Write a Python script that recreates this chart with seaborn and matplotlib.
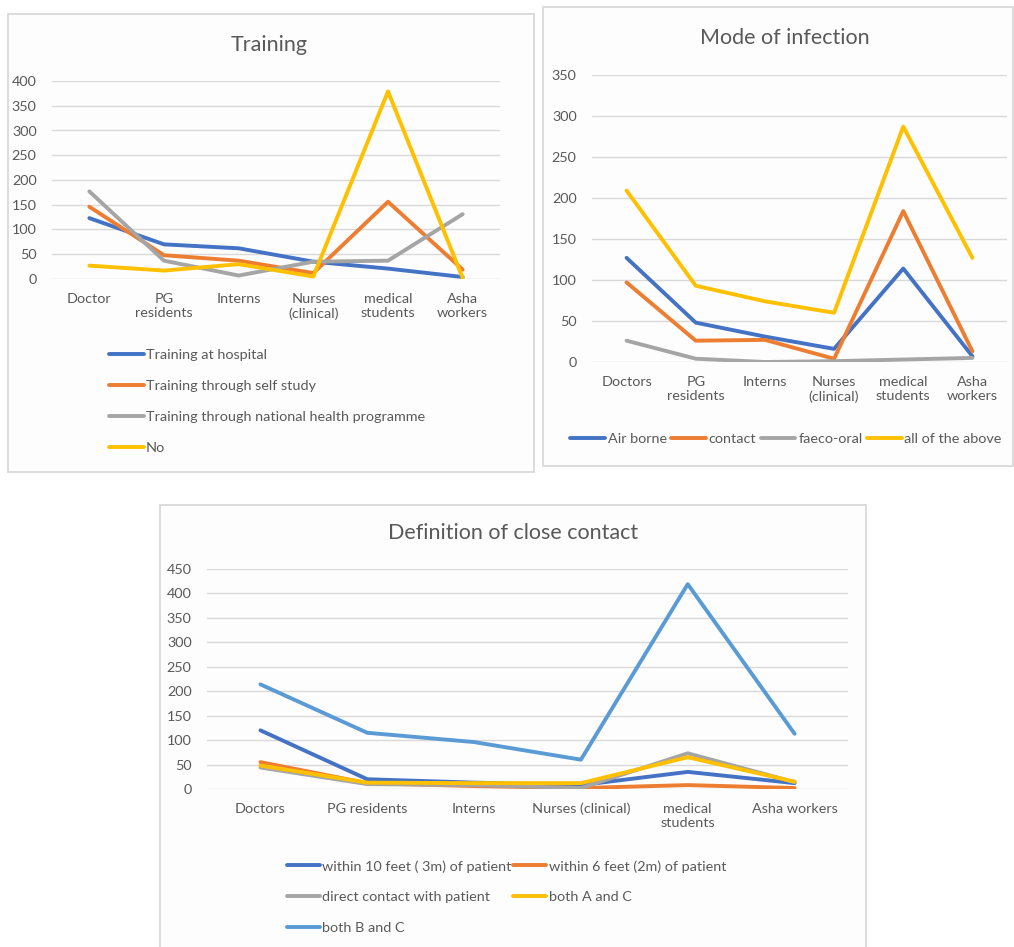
import matplotlib
matplotlib.use("Agg")
import matplotlib.pyplot as plt
from matplotlib.patches import Rectangle
import seaborn as sns
import pandas as pd

# ---------------- data ----------------
training_groups = ["Doctor", "PG\nresidents", "Interns", "Nurses\n(clinical)", "medical\nstudents", "Asha\nworkers"]
training_at_hospital = [123, 70, 62, 35, 21, 4]
training_self_study = [146, 48, 37, 12, 156, 19]
training_national_programme = [177, 37, 7, 35, 37, 131]
training_no = [27, 17, 30, 5, 379, 2]
training_series = ["Training at hospital", "Training through self study",
                   "Training through national health programme", "No"]

mode_groups = ["Doctors", "PG\nresidents", "Interns", "Nurses\n(clinical)", "medical\nstudents", "Asha\nworkers"]
mode_air_borne = [127, 48, 31, 16, 114, 7]
mode_contact = [97, 26, 27, 4, 184, 13]
mode_faeco_oral = [26, 4, 0, 1, 3, 5]
mode_all_above = [209, 93, 74, 60, 287, 127]
mode_series = ["Air borne", "contact", "faeco-oral", "all of the above"]

contact_groups = ["Doctors", "PG residents", "Interns", "Nurses (clinical)", "medical\nstudents", "Asha workers"]
contact_10_feet = [120, 20, 13, 8, 35, 12]
contact_6_feet = [55, 12, 6, 2, 8, 2]
contact_direct = [44, 10, 8, 2, 73, 14]
contact_a_and_c = [48, 13, 12, 12, 65, 15]
contact_b_and_c = [214, 115, 96, 60, 419, 113]
contact_series = ["within 10 feet ( 3m) of patient", "within 6 feet (2m) of patient",
                  "direct contact with patient", "both A and C", "both B and C"]

OFFICE = ["#4472C4", "#ED7D31", "#A5A5A5", "#FFC000", "#5B9BD5"]
TEXT = "#595959"
GRID = "#D9D9D9"
FONT = "Lato"
LEG_FS = 10.4
TICK_FS = 10.4

W, H = 1014, 947
sns.set_theme(style="white")
plt.rcParams["font.family"] = [FONT, "DejaVu Sans"]

fig = plt.figure(figsize=(W / 100, H / 100), dpi=100)
fig.patch.set_facecolor("white")


def px_box(x0, y0, x1, y1):
    return [x0 / W, 1 - y1 / H, (x1 - x0) / W, (y1 - y0) / H]


def panel(x0, y0, x1, y1):
    l, b, w, h = px_box(x0, y0, x1, y1)
    fig.patches.append(Rectangle((l, b), w, h, transform=fig.transFigure,
                                 facecolor="#FDFDFD", edgecolor=GRID, lw=1.3, zorder=-5))


def long_frame(groups, names, columns):
    df = pd.DataFrame({"group": groups})
    for n, c in zip(names, columns):
        df[n] = c
    return df.melt(id_vars="group", var_name="series", value_name="value")


def draw(box, groups, names, columns, ymax, title, title_xy):
    ax = fig.add_axes(px_box(*box))
    ax.set_facecolor("none")
    ax.set_zorder(2)
    df = long_frame(groups, names, columns)
    sns.lineplot(data=df, x="group", y="value", hue="series", hue_order=names,
                 palette=OFFICE[:len(names)], sort=False, linewidth=2.8,
                 ax=ax, legend=True)
    handles, labels = ax.get_legend_handles_labels()
    ax.get_legend().remove()
    ax.set_xlim(-0.5, len(groups) - 0.5)
    ax.set_ylim(0, ymax)
    ax.set_yticks(range(0, ymax + 1, 50))
    ax.set_xlabel("")
    ax.set_ylabel("")
    for s in ax.spines.values():
        s.set_visible(False)
    ax.yaxis.grid(True, color=GRID, lw=1)
    ax.xaxis.grid(False)
    ax.set_axisbelow(True)
    ax.tick_params(axis="both", length=0, labelsize=TICK_FS, colors=TEXT)
    ax.tick_params(axis="y", pad=11)
    ax.tick_params(axis="x", pad=10)
    fig.text(title_xy[0] / W, 1 - title_xy[1] / H, title, ha="center", va="center",
             fontsize=15.5, color=TEXT)
    return ax, handles


# ---------------- Training ----------------
panel(8, 14, 534, 472)
ax1, h1 = draw((52, 81, 500, 279), training_groups, training_series,
               [training_at_hospital, training_self_study, training_national_programme, training_no],
               400, "Training", (269, 45))
fig.legend(h1, training_series, loc="center left",
           bbox_to_anchor=(109 / W, 1 - 401.5 / H), frameon=False, ncol=1,
           fontsize=LEG_FS, labelcolor=TEXT, handlelength=2.4, handletextpad=0.15,
           labelspacing=1.3, borderpad=0, borderaxespad=0)

# ---------------- Mode of infection ----------------
panel(543, 7, 1013, 466)
ax2, h2 = draw((592, 75, 1007, 362), mode_groups, mode_series,
               [mode_air_borne, mode_contact, mode_faeco_oral, mode_all_above],
               350, "Mode of infection", (785, 38))
fig.legend(h2, mode_series, loc="center",
           bbox_to_anchor=(786 / W, 1 - 439 / H), frameon=False, ncol=4,
           fontsize=LEG_FS, labelcolor=TEXT, handlelength=2.4, handletextpad=0.2,
           columnspacing=0.3, borderpad=0, borderaxespad=0)

# ---------------- Definition of close contact ----------------
panel(160, 505, 866, 960)
ax3, h3 = draw((207, 569, 848, 789), contact_groups, contact_series,
               [contact_10_feet, contact_6_feet, contact_direct, contact_a_and_c, contact_b_and_c],
               450, "Definition of close contact", (513, 533))
order = [0, 2, 4, 1, 3]
fig.legend([h3[i] for i in order], [contact_series[i] for i in order], loc="upper left",
           bbox_to_anchor=(287 / W, 1 - 860 / H), frameon=False, ncol=2,
           fontsize=LEG_FS, labelcolor=TEXT, handlelength=2.3, handletextpad=0.15,
           columnspacing=0.1, labelspacing=1.3, borderpad=0, borderaxespad=0)

fig.savefig("out.png", dpi=100, facecolor="white")
